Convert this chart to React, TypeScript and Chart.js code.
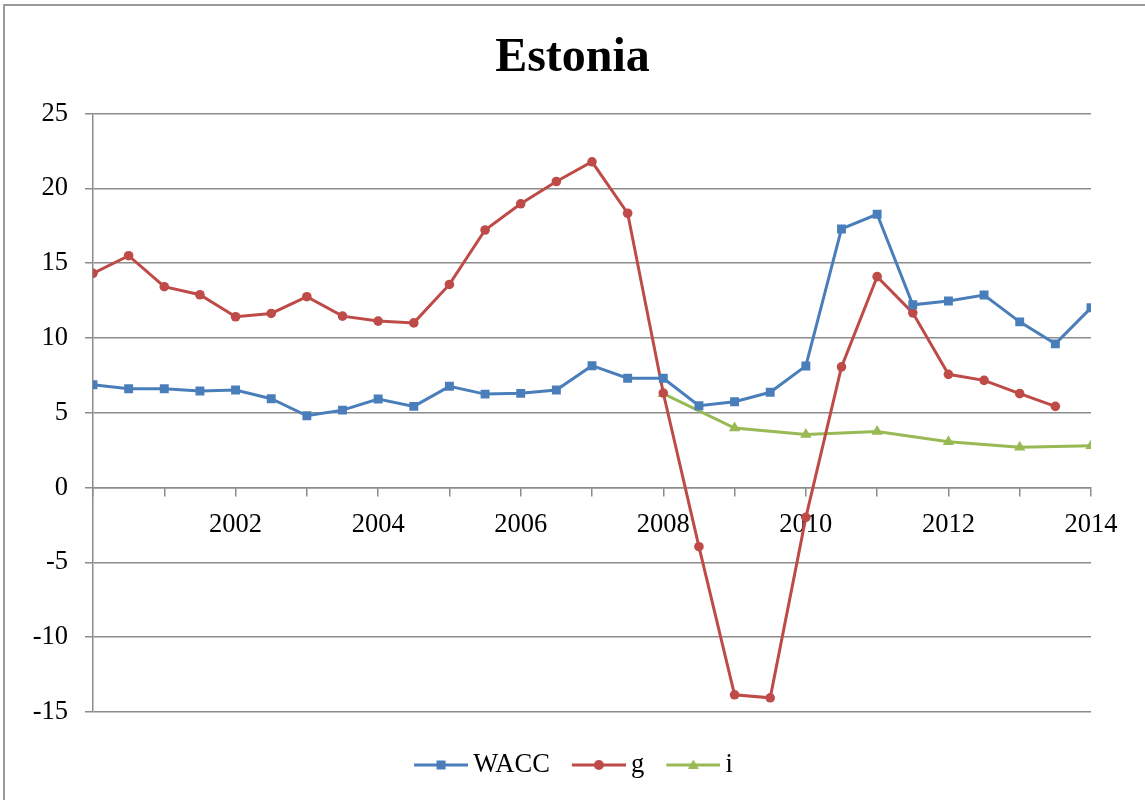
import React, { useEffect, useRef } from "react";
import { Chart, registerables } from "chart.js";

Chart.register(...registerables);

const periods = [
  2000, 2000.5, 2001, 2001.5, 2002, 2002.5, 2003, 2003.5, 2004, 2004.5,
  2005, 2005.5, 2006, 2006.5, 2007, 2007.5, 2008, 2008.5, 2009, 2009.5,
  2010, 2010.5, 2011, 2011.5, 2012, 2012.5, 2013, 2013.5, 2014,
];

const waccValues = [
  6.88, 6.61, 6.61, 6.46, 6.52, 5.94, 4.8, 5.18, 5.92, 5.43,
  6.77, 6.25, 6.3, 6.52, 8.15, 7.31, 7.31, 5.47, 5.74, 6.37,
  8.13, 17.29, 18.27, 12.22, 12.47, 12.87, 11.08, 9.61, 12.02,
];

const gValues: (number | null)[] = [
  14.32, 15.5, 13.43, 12.89, 11.42, 11.64, 12.76, 11.46, 11.13, 11.01,
  13.58, 17.22, 18.97, 20.46, 21.78, 18.34, 6.32, -3.95, -13.85, -14.05,
  -1.99, 8.07, 14.1, 11.68, 7.57, 7.17, 6.28, 5.43, null,
];

const iValues: (number | null)[] = [
  null, null, null, null, null, null, null, null, null, null,
  null, null, null, null, null, null, 6.28, null, 3.98, null,
  3.55, null, 3.75, null, 3.06, null, 2.7, null, 2.79,
];

const yTicks = [-15, -10, -5, 0, 5, 10, 15, 20, 25];
const xLabelYears = [2002, 2004, 2006, 2008, 2010, 2012, 2014];

const BLUE = "#4a7ebb";
const RED = "#be4b48";
const GREEN = "#98b954";
const GRID = "#8c8c8c";
const FONT = "'Liberation Serif', 'Times New Roman', serif";

function legendImage(color: string, style: string): HTMLCanvasElement {
  const c = document.createElement("canvas");
  c.width = 64;
  c.height = 14;
  const ctx = c.getContext("2d")!;
  ctx.strokeStyle = color;
  ctx.lineWidth = 3;
  ctx.beginPath();
  ctx.moveTo(10, 7);
  ctx.lineTo(64, 7);
  ctx.stroke();
  ctx.fillStyle = color;
  const cx = 37;
  if (style === "rect") {
    ctx.fillRect(cx - 4.5, 7 - 4.5, 9, 9);
  } else if (style === "circle") {
    ctx.beginPath();
    ctx.arc(cx, 7, 5, 0, Math.PI * 2);
    ctx.fill();
  } else {
    ctx.beginPath();
    ctx.moveTo(cx, 1.5);
    ctx.lineTo(cx + 5.5, 11);
    ctx.lineTo(cx - 5.5, 11);
    ctx.closePath();
    ctx.fill();
  }
  return c;
}

export default function App() {
  const ref = useRef<HTMLCanvasElement | null>(null);

  useEffect(() => {
    if (!ref.current) return;
    const mk = (vals: (number | null)[]) =>
      periods.map((p, i) => ({ x: p, y: vals[i] }));
    const imgs = [
      legendImage(BLUE, "rect"),
      legendImage(RED, "circle"),
      legendImage(GREEN, "triangle"),
    ];
    const chart = new Chart(ref.current, {
      type: "line",
      data: {
        datasets: [
          {
            label: "WACC",
            data: mk(waccValues),
            borderColor: BLUE,
            backgroundColor: BLUE,
            borderWidth: 3,
            pointStyle: "rect",
            pointRadius: 6.3,
            pointBorderWidth: 0,
            tension: 0,
          },
          {
            label: "g",
            data: mk(gValues),
            borderColor: RED,
            backgroundColor: RED,
            borderWidth: 3,
            pointStyle: "circle",
            pointRadius: 4.8,
            pointBorderWidth: 0,
            tension: 0,
          },
          {
            label: "i",
            data: mk(iValues),
            borderColor: GREEN,
            backgroundColor: GREEN,
            borderWidth: 3,
            pointStyle: "triangle",
            pointRadius: 6.5,
            pointBorderWidth: 0,
            spanGaps: true,
            tension: 0,
          },
        ],
      },
      options: {
        animation: false,
        responsive: false,
        maintainAspectRatio: false,
        layout: { padding: { left: 0, right: 0, top: 0, bottom: 11.75 } },
        plugins: {
          tooltip: { enabled: false },
          title: {
            display: true,
            text: "Estonia",
            color: "#000",
            font: { family: FONT, size: 48, weight: "bold" },
            padding: { top: 30, bottom: 26 },
          },
          legend: {
            position: "bottom",
            labels: {
              color: "#000",
              font: { family: FONT, size: 26.5 },
              usePointStyle: true,
              pointStyleWidth: 48,
              padding: 20,
              generateLabels: (ch: any) =>
                ch.data.datasets.map((ds: any, idx: number) => ({
                  text: ds.label,
                  pointStyle: imgs[idx],
                  fillStyle: ds.borderColor,
                  strokeStyle: ds.borderColor,
                  lineWidth: 0,
                  hidden: false,
                  datasetIndex: idx,
                  fontColor: "#000",
                })),
            },
          },
        },
        scales: {
          x: {
            type: "linear",
            min: 2000,
            max: 2014,
            position: { y: 0 } as any,
            afterBuildTicks: (scale: any) => {
              const t = [];
              for (let yr = 2000; yr <= 2014; yr++) t.push({ value: yr });
              scale.ticks = t;
            },
            ticks: {
              autoSkip: false,
              maxRotation: 0,
              minRotation: 0,
              color: "#000",
              font: { family: FONT, size: 26.5 },
              padding: 14,
              callback: (v: any) =>
                xLabelYears.includes(Number(v)) ? String(v) : "",
            },
            grid: {
              drawOnChartArea: false,
              drawTicks: true,
              tickLength: 8,
              color: GRID,
              lineWidth: 1.5,
            },
            border: { display: true, color: GRID, width: 1.5 },
          },
          xSpacer: {
            type: "linear",
            position: "bottom",
            display: true,
            ticks: { display: false },
            grid: { display: false, drawTicks: false },
            border: { display: false },
            afterFit: (scale: any) => {
              scale.height = 19.75;
            },
          },
          y: {
            type: "linear",
            min: -15,
            max: 25,
            afterBuildTicks: (scale: any) => {
              scale.ticks = yTicks.map((v) => ({ value: v }));
            },
            afterFit: (scale: any) => {
              scale.width = 93;
            },
            ticks: {
              color: "#000",
              font: { family: FONT, size: 26.5 },
              padding: 17,
              callback: (v: any) => String(v),
            },
            grid: {
              color: GRID,
              lineWidth: 1.5,
              tickLength: 8,
            },
            border: { display: true, color: GRID, width: 1.5 },
          },
          ySpacer: {
            type: "linear",
            position: "right",
            display: true,
            ticks: { display: false },
            grid: { display: false, drawTicks: false },
            border: { display: false },
            afterFit: (scale: any) => {
              scale.width = 54;
            },
          },
        },
      },
    });
    return () => chart.destroy();
  }, []);

  return (
    <div
      style={{
        position: "fixed",
        left: 0,
        top: 0,
        width: 1145,
        height: 800,
        background: "#fff",
        overflow: "hidden",
      }}
    >
      <div
        style={{
          position: "absolute",
          left: 3,
          top: 4,
          width: 1300,
          height: 1000,
          borderTop: "2.5px solid #9a9a9a",
          borderLeft: "2.5px solid #9a9a9a",
        }}
      />
      <canvas
        ref={ref}
        width={1145}
        height={800}
        style={{ position: "absolute", left: 0, top: 0, width: 1145, height: 800 }}
      />
    </div>
  );
}
